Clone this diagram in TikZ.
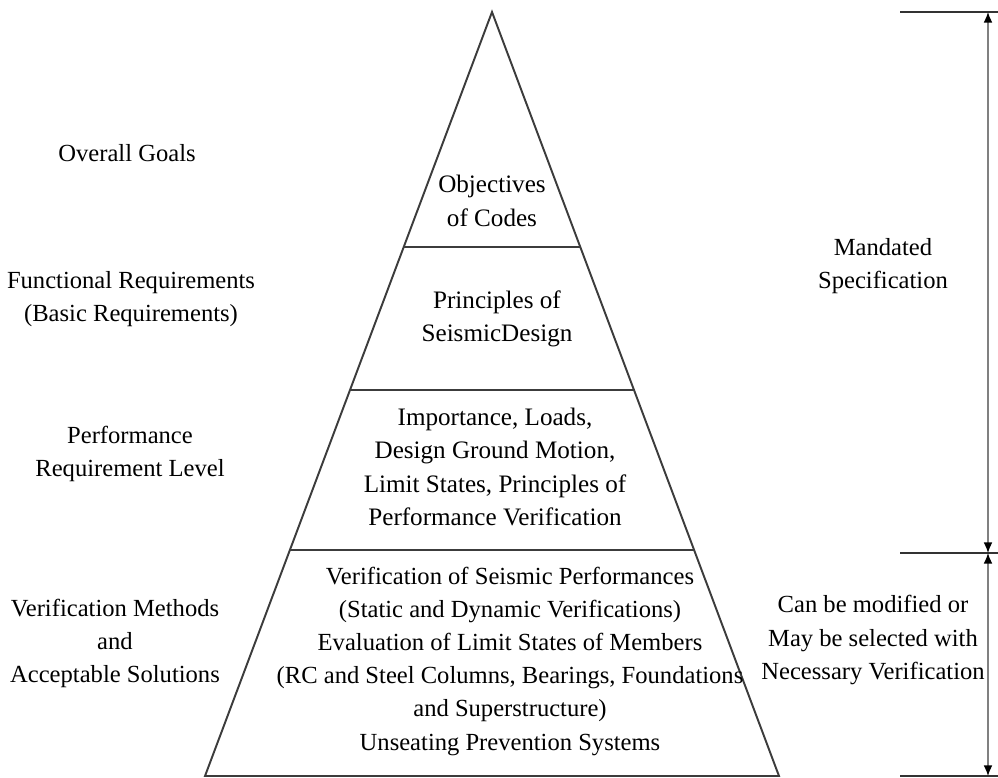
\documentclass[tikz,border=0pt]{standalone}
\usepackage{fontspec}
\setmainfont{Liberation Serif}
\usepackage{tikz}
\usetikzlibrary{arrows,arrows.meta,positioning,calc}
\definecolor{edgegray}{RGB}{60,60,60}

\begin{document}
\begin{tikzpicture}[x=0.02cm, y=-0.02cm,
    lbl/.style={align=center, font=\rmfamily\fontsize{14}{18.8}\selectfont, inner sep=0pt},
    inlbl/.style={align=center, font=\rmfamily\fontsize{14.3}{19}\selectfont, inner sep=0pt},
    edge/.style={draw=edgegray, line width=1.1pt},
    tick/.style={draw=black!80, line width=1pt},
    dim/.style={draw=black!50, line width=0.8pt,
        {Latex[length=6pt,width=5pt,color=black]-Latex[length=6pt,width=5pt,color=black]}}
]
    \useasboundingbox (0,0) rectangle (998,778);

    % pyramid outline and layers
    \coordinate (apex) at (492,12);
    \coordinate (bl) at (205,776);
    \coordinate (br) at (779,776);
    \draw[edge] (apex) -- (bl) -- (br) -- cycle;
    \foreach \t in {0.3076, 0.4948, 0.7042} {
        \draw[edge] ($(apex)!\t!(bl)$) -- ($(apex)!\t!(br)$);
    }

    % texts inside the pyramid
    \node[inlbl] (obj) at (492,201) {Objectives\\of Codes};
    \node[inlbl] (prin) at (497,319) {Principles of\\SeismicDesign};
    \node[inlbl] (perf) at (495,467) {Importance, Loads,\\Design Ground Motion,\\Limit States, Principles of\\Performance Verification};
    \node[inlbl, font=\rmfamily\fontsize{14}{18.9}\selectfont] (verif) at (510,661) {Verification of Seismic Performances\\(Static and Dynamic Verifications)\\Evaluation of Limit States of Members\\(RC and Steel Columns, Bearings, Foundations\\and Superstructure)\\Unseating Prevention Systems};

    % left side labels
    \node[lbl] (goals) at (127,153) {Overall Goals};
    \node[lbl] (func) at (131,299) {Functional Requirements\\(Basic Requirements)};
    \node[lbl] (level) at (130,454) {Performance\\Requirement Level};
    \node[lbl] (meth) at (115,643) {Verification Methods\\and\\Acceptable Solutions};

    % right side labels
    \node[lbl] (mand) at (883,266) {Mandated\\Specification};
    \node[lbl] (modif) at (873,640) {Can be modified or\\May be selected with\\Necessary Verification};

    % dimension lines
    \coordinate (dtop) at (988,12);
    \coordinate (dmid) at (988,553);
    \coordinate (dbot) at (988,776);
    \draw[tick] (900,12) -- (998,12);
    \draw[tick] (900,553) -- (998,553);
    \draw[tick] (900,776) -- (998,776);
    \draw[dim] (dtop) -- (dmid);
    \draw[dim] (dmid) -- (dbot);
\end{tikzpicture}
\end{document}
